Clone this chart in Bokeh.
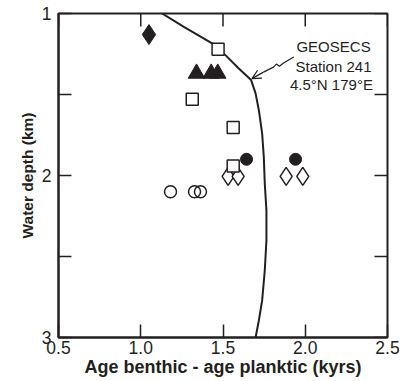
import numpy as np
from bokeh.plotting import figure
from bokeh.models import Range1d, FixedTicker, Arrow, OpenHead
from bokeh.embed import file_html
from bokeh.resources import INLINE
from bokeh.core.properties import value

INK = "#231f20"
FONT = "Liberation Sans"

# GEOSECS Station 241 profile (age difference in kyr vs water depth in km)
curve_age = [1.13, 1.262, 1.434, 1.515, 1.596, 1.671, 1.698, 1.718, 1.738, 1.748,
             1.754, 1.764, 1.764, 1.754, 1.738, 1.718, 1.698]
curve_depth = [1.0, 1.082, 1.184, 1.257, 1.339, 1.411, 1.493, 1.597, 1.741, 1.885,
               2.050, 2.215, 2.400, 2.586, 2.771, 2.895, 3.0]

# sample series
filled_diamond_age = [1.05]
filled_diamond_depth = [1.13]
open_square_age = [1.47, 1.313, 1.562, 1.562]
open_square_depth = [1.221, 1.529, 1.704, 1.941]
filled_triangle_age = [1.339, 1.428, 1.468]
filled_triangle_depth = [1.37, 1.37, 1.37]
filled_circle_age = [1.643, 1.941]
filled_circle_depth = [1.90, 1.90]
open_diamond_age = [1.531, 1.592, 1.884, 1.985]
open_diamond_depth = [2.005, 2.005, 2.005, 2.005]
open_circle_age = [1.181, 1.327, 1.363]
open_circle_depth = [2.10, 2.10, 2.10]

x_ticks = [0.5, 1.0, 1.5, 2.0, 2.5]
x_tick_labels = ["0.5", "1.0", "1.5", "2.0", "2.5"]
y_major_ticks = [1, 2, 3]
y_minor_ticks = [1.5, 2.5]
y_all_ticks = [1.0, 1.5, 2.0, 2.5, 3.0]

station_lines = ["GEOSECS", "Station 241", "4.5°N  179°E"]
station_x = [2.172, 2.172, 2.172]
station_y = [1.204, 1.327, 1.438]
pointer_x = [1.93, 1.868, 1.843, 1.825, 1.807, 1.746]
pointer_y = [1.269, 1.306, 1.325, 1.312, 1.331, 1.362]
pointer_tip = (1.676, 1.402)

W, H = 401, 381
BL, BR, BT, BB = 58, 14, 13, 44
X0, X1 = 0.5, 2.5
Y0, Y1 = 3.0, 1.0
TICK_PX = 13

p = figure(width=W, height=H, output_backend="svg", toolbar_location=None,
           x_range=Range1d(X0, X1), y_range=Range1d(Y0, Y1),
           min_border_left=BL, min_border_right=BR, min_border_top=BT,
           min_border_bottom=BB)
p.grid.visible = False
p.outline_line_color = INK
p.outline_line_width = 2
p.background_fill_color = "white"
p.border_fill_color = "white"


def style_axis(ax):
    ax.axis_line_color = INK
    ax.axis_line_width = 2
    ax.major_tick_line_color = INK
    ax.major_tick_line_width = 1.5
    ax.major_tick_in = TICK_PX
    ax.major_tick_out = 0
    ax.minor_tick_line_color = INK
    ax.minor_tick_line_width = 1.5
    ax.minor_tick_in = TICK_PX
    ax.minor_tick_out = 0
    ax.major_label_text_font = FONT
    ax.major_label_text_color = INK
    ax.major_label_text_font_size = "17.5px"
    ax.axis_label_text_font = FONT
    ax.axis_label_text_font_style = "bold"
    ax.axis_label_text_color = INK


xa = p.xaxis[0]
xa.ticker = FixedTicker(ticks=x_ticks)
style_axis(xa)
xa.major_label_overrides = dict(zip(x_ticks, x_tick_labels))
xa.major_label_standoff = 3
xa.axis_label = "Age benthic - age planktic (kyrs)"
xa.axis_label_text_font_size = "18px"
xa.axis_label_standoff = 0

ya = p.yaxis[0]
ya.ticker = FixedTicker(ticks=y_major_ticks, minor_ticks=y_minor_ticks)
style_axis(ya)
ya.major_label_standoff = 7
ya.axis_label = "Water depth (km)"
ya.axis_label_text_font_size = "15.5px"
ya.axis_label_standoff = 3

# inward ticks on the top and right edges of the frame
frame_w = W - BL - BR
frame_h = H - BT - BB
dx_tick = TICK_PX * (X1 - X0) / frame_w
dy_tick = TICK_PX * (Y0 - Y1) / frame_h
p.segment(x0=x_ticks, x1=x_ticks, y0=[Y1] * len(x_ticks),
          y1=[Y1 + dy_tick] * len(x_ticks), line_color=INK, line_width=1.5)
p.segment(x0=[X1] * len(y_all_ticks), x1=[X1 - dx_tick] * len(y_all_ticks),
          y0=y_all_ticks, y1=y_all_ticks, line_color=INK, line_width=1.5)

# profile curve
p.line(curve_age, curve_depth, line_width=2, line_color=INK)

# pointer from annotation to curve
p.line(pointer_x, pointer_y, line_width=1.2, line_color=INK)
p.add_layout(Arrow(end=OpenHead(size=9, line_width=1.2, line_color=INK),
                   x_start=pointer_x[-1], y_start=pointer_y[-1],
                   x_end=pointer_tip[0], y_end=pointer_tip[1],
                   line_width=1.2, line_color=INK))
p.text(x=station_x, y=station_y, text=station_lines, text_align="center",
       text_baseline="alphabetic", text_font=value(FONT),
       text_font_size=value("15px"), text_color=INK)

# markers
p.scatter(open_circle_age, open_circle_depth, marker="circle", size=12,
          fill_color=None, line_color=INK, line_width=1.5)
p.scatter(open_diamond_age, open_diamond_depth, marker="diamond", size=18,
          fill_color="white", line_color=INK, line_width=1.5)
p.scatter(open_square_age, open_square_depth, marker="square", size=12,
          fill_color="white", line_color=INK, line_width=1.5)
p.scatter(filled_circle_age, filled_circle_depth, marker="circle", size=12,
          fill_color=INK, line_color=INK)
p.scatter(filled_triangle_age, filled_triangle_depth, marker="triangle", size=16.5,
          fill_color=INK, line_color=INK)
p.scatter(filled_diamond_age, filled_diamond_depth, marker="diamond", size=20,
          fill_color=INK, line_color=INK)

open("out.html", "w").write(file_html(p, INLINE))
